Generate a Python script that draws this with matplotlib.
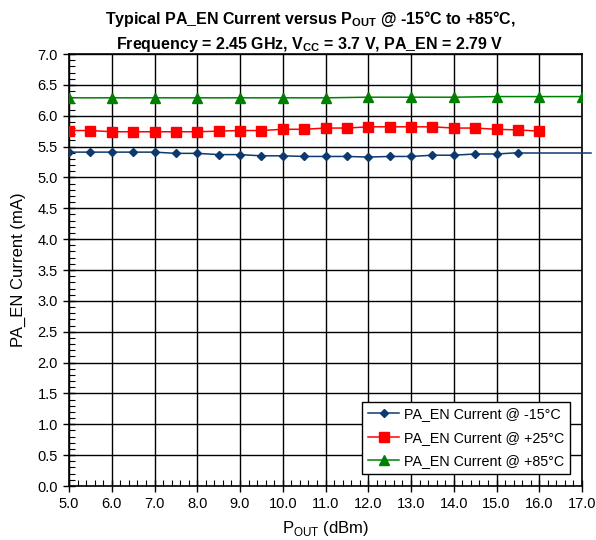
import matplotlib.pyplot as plt
from matplotlib.ticker import MultipleLocator, FormatStrFormatter

plt.rcParams['font.family'] = ['Liberation Sans', 'DejaVu Sans']
plt.rcParams['mathtext.fontset'] = 'custom'
plt.rcParams['mathtext.rm'] = 'Liberation Sans'
plt.rcParams['mathtext.bf'] = 'Liberation Sans:bold'

# P_OUT (dBm)
pout_m15 = [5.0, 5.5, 6.0, 6.5, 7.0, 7.5, 8.0, 8.5, 9.0, 9.5, 10.0, 10.5,
            11.0, 11.5, 12.0, 12.5, 13.0, 13.5, 14.0, 14.5, 15.0, 15.5]
cur_m15 = [5.41, 5.41, 5.41, 5.41, 5.41, 5.39, 5.39, 5.37, 5.37, 5.35, 5.35, 5.34,
           5.34, 5.34, 5.33, 5.34, 5.34, 5.36, 5.36, 5.38, 5.38, 5.40]

pout_p25 = [5.0, 5.5, 6.0, 6.5, 7.0, 7.5, 8.0, 8.5, 9.0, 9.5, 10.0, 10.5,
            11.0, 11.5, 12.0, 12.5, 13.0, 13.5, 14.0, 14.5, 15.0, 15.5, 16.0]
cur_p25 = [5.76, 5.76, 5.74, 5.74, 5.74, 5.74, 5.74, 5.75, 5.76, 5.76, 5.78, 5.78,
           5.80, 5.80, 5.82, 5.82, 5.82, 5.82, 5.80, 5.80, 5.78, 5.77, 5.75]

pout_p85 = [5.0, 6.0, 7.0, 8.0, 9.0, 10.0, 11.0, 12.0, 13.0, 14.0, 15.0, 16.0, 17.0]
cur_p85 = [6.29, 6.29, 6.29, 6.29, 6.29, 6.29, 6.29, 6.30, 6.30, 6.30, 6.31, 6.31, 6.31]

fig = plt.figure(figsize=(5.96, 5.40), dpi=100)
ax = fig.add_axes([69/596, 54/540, 513/596, 432/540])

blue = '#0d3a6e'
ax.plot(pout_m15, cur_m15, color=blue, marker='D', markersize=4.5, lw=1.1,
        label='PA_EN Current @ -15°C', zorder=3)
# trace continues flat past the last point out to the right edge
ax.plot([pout_m15[-1], 17.2], [cur_m15[-1], cur_m15[-1]], color=blue, lw=1.1,
        zorder=3, clip_on=False)
ax.plot(pout_p25, cur_p25, color='#ff0000', marker='s', markersize=6.5, lw=1.1,
        label='PA_EN Current @ +25°C', zorder=3)
ax.plot(pout_p85, cur_p85, color='#008000', marker='^', markersize=6.5, lw=1.1,
        label='PA_EN Current @ +85°C', zorder=3)

ax.set_xlim(5, 17)
ax.set_ylim(0, 7)
ax.xaxis.set_major_locator(MultipleLocator(1))
ax.xaxis.set_minor_locator(MultipleLocator(0.2))
ax.yaxis.set_major_locator(MultipleLocator(0.5))
ax.yaxis.set_minor_locator(MultipleLocator(0.1))
ax.xaxis.set_major_formatter(FormatStrFormatter('%.1f'))
ax.yaxis.set_major_formatter(FormatStrFormatter('%.1f'))
ax.tick_params(which='major', direction='inout', length=8, width=1, labelsize=10.5,
               colors='black')
ax.tick_params(which='minor', direction='in', length=4, width=0.8)
ax.tick_params(axis='x', pad=4)
ax.tick_params(axis='y', pad=4)
ax.grid(which='major', color='black', lw=1)
for s in ax.spines.values():
    s.set_linewidth(1.2)

ax.set_xlabel(r'P$_{\mathregular{OUT}}$ (dBm)', fontsize=12, labelpad=6)
ax.set_ylabel('PA_EN Current (mA)', fontsize=12, labelpad=8)

fig.text(0.52, 0.965, r'Typical PA_EN Current versus P$_{\mathbf{OUT}}$ @ -15°C to +85°C,',
         ha='center', va='center', fontsize=11.5, fontweight='bold')
fig.text(0.52, 0.918, r'Frequency = 2.45 GHz, V$_{\mathbf{CC}}$ = 3.7 V, PA_EN = 2.79 V',
         ha='center', va='center', fontsize=11.5, fontweight='bold')

leg = ax.legend(loc='lower right', fontsize=10.3, fancybox=False, framealpha=1,
                edgecolor='black', borderpad=0.4, handlelength=2.2,
                handletextpad=0.3, bbox_to_anchor=(0.99, 0.012), labelspacing=0.65)
leg.get_frame().set_linewidth(1)

fig.savefig('out.png', dpi=100)
